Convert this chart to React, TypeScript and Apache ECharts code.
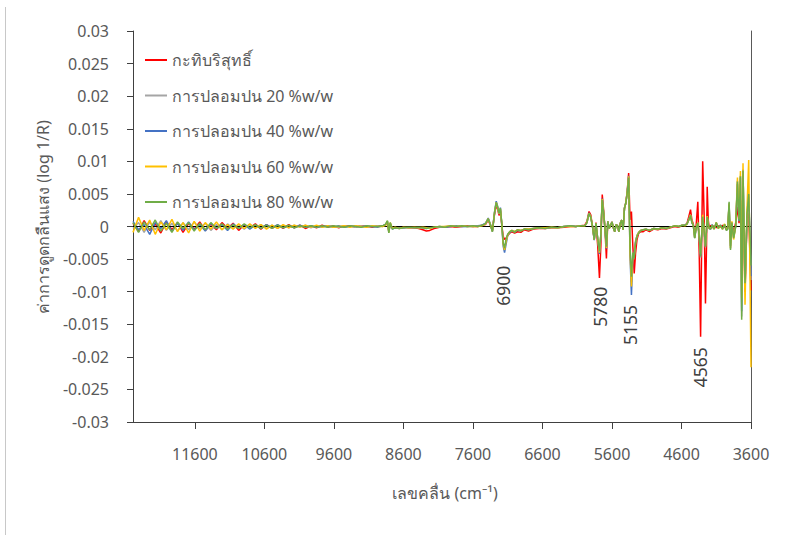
import React, { useEffect, useRef } from "react";
import * as echarts from "echarts";

// wavenumber (cm-1), shared by all series
const wavenumbers = [
  12490, 12410, 12330, 12250, 12170, 12090, 12010, 11930, 11850, 11770, 11690, 11610, 11530, 11450, 11370, 11290, 11210, 11130, 11050, 10970, 10890, 10810, 10730, 10650, 10570, 10490, 10410, 10330, 10250, 10170, 10090, 10010, 9930, 9850, 9770, 9690, 9610, 9530, 9450, 9370, 9290, 9210, 9130, 9050, 8970,
  8900, 8860, 8830, 8810, 8790, 8760, 8720, 8660, 8600, 8520, 8440, 8380, 8320, 8270, 8220, 8160, 8080, 8000, 7920, 7840, 7760, 7680, 7600, 7530,
  7470, 7420, 7380, 7350, 7320, 7290, 7265, 7245, 7225, 7205, 7185, 7165, 7145, 7125, 7100, 7070, 7040, 7000, 6960, 6910, 6860, 6800, 6730, 6650, 6560, 6470, 6380, 6290, 6200, 6120, 6050,
  5990, 5960, 5930, 5905, 5880, 5855, 5830, 5805, 5780, 5760, 5740, 5720, 5700, 5680, 5660, 5640, 5620, 5600, 5580, 5560, 5540, 5520, 5500, 5480, 5460, 5440, 5420, 5400, 5380, 5360, 5340, 5320, 5300, 5280, 5260, 5240, 5215, 5185, 5150, 5110, 5060, 5000, 4940, 4880, 4820, 4760, 4700, 4640, 4590,
  4550, 4520, 4495, 4470, 4450, 4430, 4410, 4390, 4365, 4345, 4325, 4310, 4295, 4275, 4255, 4240, 4230, 4215, 4200, 4180, 4160, 4130, 4100, 4070, 4040, 4010, 3980, 3955,
  3935, 3915, 3895, 3875, 3850, 3820, 3795, 3772, 3752, 3734, 3715, 3686, 3657, 3633, 3600,
];

// absorbance values in units of 1e-4 (log 1/R)
const pure = [
  5, -8, 9, -6, 4, -10, 7, -5, 6, -9, 5, -4, 7, -6, 4, -5, 6, -3, 5, -6, 3, -2, 4, -4, 3, -3, 2, -3, 3, -2, 2, -3, 1, -2, 2, -1, 1, -2, 1, 1, -1, 1, 0, -1, 1,
  1, 2, 5, -6, 3, -3, -2, -2, -1, -2, -2, -3, -5, -7, -6, -3, -1, -1, 0, -1, 0, 1, 0, 0,
  2, 3, 10, 2, -6, 18, 33, 27, 17, 24, 2, -15, -20, -18, -14, -10, -8, -10, -8, -9, -5, -7, -4, -3, -3, -2, -2, -1, 0, 0, 1,
  2, 8, 23, 18, 0, -20, 6, -30, -79, -30, 49, 25, -5, -49, 8, -3, 2, 7, -2, -8, 3, 1, -8, 5, 10, -5, 28, 36, 55, 82, 10, 23, -30, -72, -40, -20, -10, -8, -8, -5, -8, -4, -5, -3, -4, -2, 0, -1, 1,
  2, 5, 15, 26, 10, 4, -12, 0, 38, -40, -169, -30, 100, 20, -118, -30, 61, 10, -3, 2, -2, 1, -2, 1, -1, 2, -1, -3,
  -2, 15, -12, 4, -8, 6, 30, 5, 40, -60, 45, -100, 13, 20, -98,
];
const mix20 = [
  -3, 6, -9, 7, -5, 9, -6, 5, -7, 6, -5, 7, -3, 5, -6, 3, -5, 4, -3, 3, -4, 3, -2, 3, -3, 2, -3, 2, -2, 2, -1, 2, -2, 1, -1, 1, 0, -1, 1, 0, -1, 1, -1, 0, 1,
  0, 2, 7, -8, 5, -3, -2, -3, -2, -1, -1, -2, -2, -3, -2, -1, -1, 0, 1, 0, 0, 0, 1, 0,
  2, 4, 11, 3, -8, 20, 36, 29, 19, 27, 4, -26, -35, -22, -12, -8, -6, -8, -5, -6, -4, -5, -3, -2, -3, -1, -2, 0, 1, 0, 1,
  1, 6, 20, 14, 0, -20, 5, -19, -40, -13, 42, 20, -4, -32, 8, -3, 2, 7, -2, -8, 3, 1, -8, 5, 10, -5, 28, 36, 52, 76, -35, -85, -45, -45, -24, -14, -9, -6, -5, -4, -6, -3, -4, -2, -3, -1, 1, 0, 2,
  2, 4, 10, 17, 6, 2, -18, -3, 6, -16, -48, -15, 15, -5, -32, -5, 15, 3, -3, -4, 2, -4, 6, -3, 2, -4, 3, -6,
  -4, 36, -34, 6, -18, 0, 70, 9, 78, -138, 88, -90, 18, 48, -82,
];
const mix40 = [
  8, -5, 3, -12, 6, -3, 9, -8, 5, -6, 7, -5, 3, -7, 5, -3, 3, -6, 4, -2, 3, -4, 2, -3, 3, -2, 3, -2, 1, -2, 2, -1, 1, -1, 0, 1, -1, 1, -1, 0, 1, -1, 1, 0, -1,
  1, 3, 8, -9, 5, -4, -2, -2, -2, -1, -2, -1, -2, -2, -2, -1, 0, -1, 0, 1, 0, 0, 0, 1,
  2, 5, 13, 4, -7, 22, 39, 31, 21, 29, 3, -30, -40, -28, -14, -9, -7, -8, -6, -6, -4, -4, -3, -2, -2, -1, -1, 0, 1, 0, 1,
  1, 6, 21, 15, 0, -21, 5, -20, -42, -14, 43, 21, -4, -34, 8, -3, 2, 7, -2, -8, 3, 1, -8, 5, 10, -5, 29, 37, 54, 78, -45, -105, -50, -40, -22, -14, -9, -6, -5, -4, -6, -3, -4, -2, -3, -1, 1, 0, 2,
  2, 4, 11, 18, 6, 2, -17, -3, 6, -14, -44, -14, 16, -5, -30, -5, 14, 3, -2, -4, 3, -3, 5, -2, 2, -3, 3, -5,
  -3, 33, -30, 6, -16, 1, 65, 8, 75, -130, 85, -95, 15, 45, -76,
];
const mix60 = [
  -9, 14, -6, 10, -12, 7, -5, 11, -8, 6, -10, 8, -7, 6, -4, 7, -5, 3, -4, 4, -3, 4, -3, 3, -4, 2, -3, 3, -2, 2, -1, 2, -1, 2, -1, 1, -1, 0, 1, -1, 1, 0, -1, 1, 0,
  0, 2, 8, -9, 6, -3, -1, -3, -1, -2, -1, -2, -1, -2, -3, -1, 0, 0, 1, 0, 1, 0, 0, 0,
  1, 4, 12, 3, -7, 21, 37, 30, 20, 27, 4, -27, -36, -24, -13, -8, -6, -8, -5, -6, -4, -4, -3, -2, -2, -1, -2, 0, 0, 0, 1,
  1, 6, 20, 15, 0, -20, 5, -19, -40, -13, 42, 21, -4, -33, 8, -3, 2, 7, -2, -8, 3, 1, -8, 5, 10, -5, 28, 37, 53, 77, -40, -92, -45, -45, -24, -14, -9, -6, -5, -4, -6, -3, -4, -2, -3, -1, 1, 0, 2,
  1, 4, 10, 18, 7, 2, -17, -2, 6, -15, -42, -13, 18, -4, -30, -4, 16, 3, -3, -3, 2, -4, 6, -3, 1, -4, 4, -5,
  -3, 35, -33, 8, -20, 2, 75, 12, 85, -110, 97, -120, 30, 102, -216,
];
const mix80 = [
  6, -9, 7, -5, 10, -7, 5, -9, 7, -3, 6, -7, 5, -5, 6, -3, 4, -4, 3, -3, 4, -2, 3, -3, 2, -3, 2, -2, 2, -2, 1, -1, 1, -1, 1, -1, 1, 0, -1, 1, 0, -1, 1, 0, 0,
  1, 3, 9, -10, 6, -4, -2, -3, -2, -1, -2, -1, -2, -3, -2, -1, 0, -1, 1, 0, 1, 0, 1, 0,
  2, 4, 12, 3, -8, 20, 37, 30, 20, 28, 5, -25, -33, -20, -12, -8, -6, -9, -5, -7, -4, -5, -3, -2, -3, -1, -2, 0, 1, 0, 1,
  1, 6, 20, 14, 0, -20, 5, -18, -38, -12, 41, 20, -4, -31, 8, -3, 2, 7, -2, -8, 3, 1, -8, 5, 10, -5, 28, 36, 52, 75, -30, -77, -40, -49, -25, -15, -10, -6, -5, -4, -6, -3, -4, -2, -3, -1, 1, 0, 2,
  2, 4, 10, 17, 6, 2, -18, -3, 5, -15, -46, -15, 15, -5, -31, -5, 15, 3, -3, -4, 2, -4, 6, -3, 2, -4, 3, -6,
  -4, 38, -36, 6, -18, 0, 69, 9, 77, -143, 86, -87, 20, 50, -60,
];

const seriesNames = [
  "กะทิบริสุทธิ์",
  "การปลอมปน 20 %w/w",
  "การปลอมปน 40 %w/w",
  "การปลอมปน 60 %w/w",
  "การปลอมปน 80 %w/w",
];
const seriesValues = [pure, mix20, mix40, mix60, mix80];
const seriesColors = ["#FF0000", "#A5A5A5", "#4472C4", "#FFC000", "#70AD47"];

const xTicks = [11600, 10600, 9600, 8600, 7600, 6600, 5600, 4600, 3600];

// peak annotations: label, anchor wavenumber, anchor absorbance
const annotationLabels = ["6900", "5780", "5155", "4565"];
const annotationWn = [7168, 5774, 5343, 4337];
const annotationAbs = [-0.0091, -0.0123, -0.0151, -0.0216];

const FONT = "'Noto Sans', 'DejaVu Sans', sans-serif";

export default function App() {
  const ref = useRef<HTMLDivElement>(null);
  useEffect(() => {
    if (!ref.current) return;
    const chart = echarts.init(ref.current, null, { renderer: "svg" });
    const series: any[] = seriesNames.map((name, si) => ({
      name,
      type: "line",
      symbol: "none",
      showSymbol: false,
      smooth: false,
      z: 2 + si,
      lineStyle: { width: 1.5, color: seriesColors[si] },
      itemStyle: { color: seriesColors[si] },
      data: wavenumbers.map((w, i) => [w, seriesValues[si][i] * 1e-4]),
    }));
    series[series.length - 1].markLine = {
      silent: true,
      symbol: "none",
      label: { show: false },
      lineStyle: { color: "#000", width: 1, type: "solid" },
      data: [{ yAxis: 0 }],
    };
    chart.setOption({
      animation: false,
      backgroundColor: "#ffffff",
      textStyle: { fontFamily: FONT },
      grid: { left: 133, right: 47, top: 31, bottom: 113 },
      legend: {
        orient: "vertical",
        left: 145,
        top: 51,
        padding: 0,
        icon: "rect",
        itemWidth: 22,
        itemHeight: 2,
        itemGap: 17.5,
        textStyle: { color: "#595959", fontSize: 16, lineHeight: 18, fontFamily: FONT },
        data: seriesNames,
      },
      xAxis: {
        type: "value",
        inverse: true,
        min: 3600,
        max: 12490,
        splitLine: { show: false },
        axisLine: { show: true, onZero: false, lineStyle: { color: "#404040", width: 1 } },
        axisTick: { show: true, length: 7, customValues: xTicks, lineStyle: { color: "#404040" } },
        axisLabel: {
          customValues: xTicks,
          color: "#595959",
          fontSize: 16,
          fontFamily: FONT,
          margin: 24,
          formatter: (v: number) => String(Math.round(v)),
        },
      },
      yAxis: [
        {
          type: "value",
          min: -0.03,
          max: 0.03,
          interval: 0.005,
          position: "left",
          splitLine: { show: false },
          axisLine: { show: true, onZero: false, lineStyle: { color: "#404040", width: 1 } },
          axisTick: { show: true, length: 6, lineStyle: { color: "#404040" } },
          axisLabel: {
            color: "#595959",
            fontSize: 16,
            fontFamily: FONT,
            margin: 24,
            formatter: (v: number) => String(+v.toFixed(3)),
          },
        },
        {
          type: "value",
          min: -0.03,
          max: 0.03,
          interval: 0.005,
          position: "right",
          splitLine: { show: false },
          axisLine: { show: true, onZero: false, lineStyle: { color: "#595959", width: 1 } },
          axisTick: { show: false },
          axisLabel: { show: false },
        },
      ],
      series,
    });

    const annos = annotationLabels.map((label, i) => {
      const p = chart.convertToPixel({ gridIndex: 0 }, [annotationWn[i], annotationAbs[i]]) as number[];
      return {
        type: "text",
        x: p[0],
        y: p[1],
        rotation: Math.PI / 2,
        z: 100,
        style: {
          text: label,
          fill: "#404040",
          font: `17.5px ${FONT}`,
          align: "center",
          verticalAlign: "middle",
          textAlign: "center",
          textVerticalAlign: "middle",
        },
      };
    });

    chart.setOption({
      graphic: [
        {
          type: "line",
          shape: { x1: 5.5, y1: 7, x2: 5.5, y2: 535 },
          style: { stroke: "#c8c8c8", lineWidth: 1 },
        },
        {
          type: "text",
          x: 43,
          y: 217,
          rotation: Math.PI / 2,
          style: {
            text: "ค่าการดูดกลืนแสง (log 1/R)",
            fill: "#595959",
            font: `16px ${FONT}`,
            align: "center",
            verticalAlign: "middle",
            textAlign: "center",
            textVerticalAlign: "middle",
          },
        },
        {
          type: "text",
          x: 445,
          y: 493,
          style: {
            text: "เลขคลื่น (cm⁻¹)",
            fill: "#595959",
            font: `16px ${FONT}`,
            align: "center",
            verticalAlign: "middle",
            textAlign: "center",
            textVerticalAlign: "middle",
          },
        },
        ...annos,
      ],
    });

    return () => chart.dispose();
  }, []);
  return (
    <div
      ref={ref}
      style={{ position: "absolute", left: 0, top: 0, width: 798, height: 535, background: "#fff" }}
    />
  );
}
